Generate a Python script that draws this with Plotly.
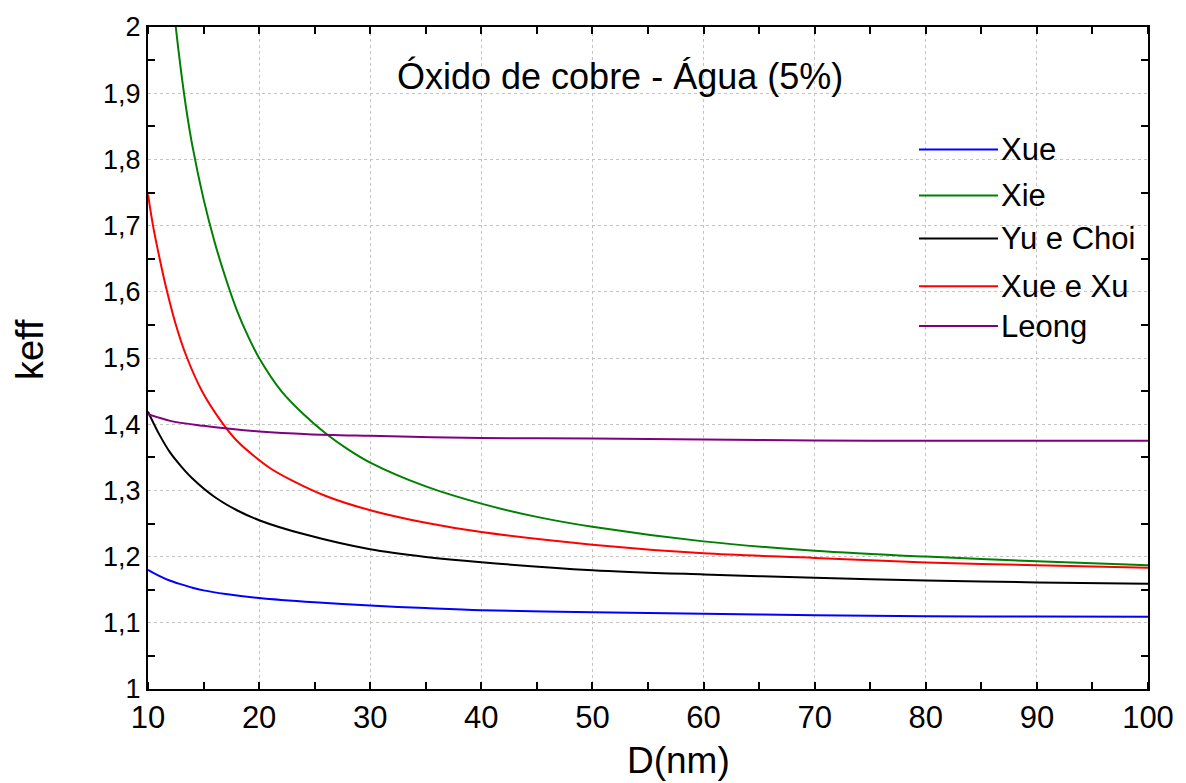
import plotly.graph_objects as go

# Effective thermal conductivity of CuO-water nanofluid (5%) vs particle diameter
d_xue = [10, 11, 12, 13, 14, 15, 17, 20, 25, 30, 35, 40, 50, 60, 70, 80, 90, 100]
k_xue = [1.180, 1.171, 1.1635, 1.158, 1.153, 1.149, 1.1435, 1.1375, 1.131, 1.126, 1.1222, 1.119,
         1.116, 1.1135, 1.1115, 1.110, 1.1095, 1.109]

d_xie = [12, 12.5, 13, 13.5, 14, 15, 16, 17, 18, 19, 20, 22, 24, 26, 28, 30, 35, 40, 45, 50,
         60, 70, 80, 90, 100]
k_xie = [2.08, 2.0, 1.93, 1.87, 1.82, 1.74, 1.675, 1.62, 1.572, 1.533, 1.5, 1.45, 1.415, 1.386,
         1.362, 1.342, 1.306, 1.280, 1.260, 1.245, 1.223, 1.209, 1.200, 1.193, 1.187]

d_yu = [10, 11, 12, 13, 14, 16, 18, 20, 24, 30, 35, 40, 50, 60, 70, 80, 90, 100]
k_yu = [1.419, 1.385, 1.357, 1.336, 1.318, 1.29, 1.27, 1.255, 1.234, 1.211, 1.1995, 1.1915,
        1.1795, 1.173, 1.168, 1.164, 1.161, 1.159]

d_xuexu = [10, 10.45, 11.05, 11.65, 12.46, 13.45, 14.89, 16.6, 18, 19.54, 21, 22.9, 26, 30,
           35, 40, 50, 60, 70, 80, 90, 100]
k_xuexu = [1.747, 1.70, 1.65, 1.605, 1.553, 1.503, 1.449, 1.404, 1.375, 1.352, 1.3335, 1.3155,
           1.2915, 1.270, 1.251, 1.237, 1.218, 1.205, 1.198, 1.191, 1.187, 1.183]

d_leong = [10, 12, 15, 17.35, 20, 24.4, 30, 40, 50, 60, 70, 80, 90, 100]
k_leong = [1.415, 1.405, 1.3975, 1.393, 1.389, 1.385, 1.3825, 1.379, 1.3785, 1.377, 1.3755,
           1.375, 1.375, 1.375]

series_names = ["Xue", "Xie", "Yu e Choi", "Xue e Xu", "Leong"]
series_colors = ["#0000ff", "#008000", "#000000", "#ff0000", "#800080"]
series_x = [d_xue, d_xie, d_yu, d_xuexu, d_leong]
series_y = [k_xue, k_xie, k_yu, k_xuexu, k_leong]

x_ticks = [10, 20, 30, 40, 50, 60, 70, 80, 90, 100]
y_ticks = [1.0, 1.1, 1.2, 1.3, 1.4, 1.5, 1.6, 1.7, 1.8, 1.9, 2.0]
y_ticktext = ["1", "1,1", "1,2", "1,3", "1,4", "1,5", "1,6", "1,7", "1,8", "1,9", "2"]

FONT = "Liberation Sans, Arial, sans-serif"

fig = go.Figure()
for name, color, xs, ys in zip(series_names, series_colors, series_x, series_y):
    fig.add_trace(go.Scatter(
        x=xs, y=ys, mode="lines", name=name,
        line=dict(color=color, width=2, shape="spline", smoothing=0.9),
        showlegend=False,
    ))

# hand-drawn legend block (long key lines)
legend_y = [0.8148, 0.7455, 0.6807, 0.6084, 0.5482]
shapes = []
annotations = []
for name, color, ly in zip(series_names, series_colors, legend_y):
    shapes.append(dict(type="line", xref="paper", yref="paper",
                       x0=0.771, x1=0.850, y0=ly, y1=ly,
                       line=dict(color=color, width=2)))
    annotations.append(dict(xref="paper", yref="paper", x=0.851, y=ly,
                            text=name, showarrow=False, xanchor="left",
                            yanchor="middle",
                            font=dict(family=FONT, size=31, color="black")))

annotations.append(dict(xref="paper", yref="paper", x=0.472, y=0.925,
                        text="Óxido de cobre - Água (5%)", showarrow=False,
                        xanchor="center", yanchor="middle",
                        font=dict(family=FONT, size=36, color="black")))
annotations.append(dict(xref="paper", yref="paper", x=0.53, y=-0.1084,
                        text="D(nm)", showarrow=False,
                        xanchor="center", yanchor="middle",
                        font=dict(family=FONT, size=37, color="black")))
annotations.append(dict(xref="paper", yref="paper", x=-0.118, y=0.512,
                        text="keff", showarrow=False, textangle=-90,
                        xanchor="center", yanchor="middle",
                        font=dict(family=FONT, size=38, color="black")))

fig.update_layout(
    width=1186, height=783,
    margin=dict(l=148, r=38, t=25, b=94),
    paper_bgcolor="white", plot_bgcolor="white",
    font=dict(family=FONT, color="black"),
    shapes=shapes, annotations=annotations,
    showlegend=False,
)

fig.update_xaxes(
    range=[10, 100], tickvals=x_ticks, ticks="",
    tickfont=dict(family=FONT, size=31),
    showline=True, linecolor="black", linewidth=2, mirror="allticks",
    showgrid=True, gridcolor="#c4c4c4", gridwidth=1, griddash="dot",
    zeroline=False,
    minor=dict(dtick=5, tick0=10, ticks="inside", ticklen=7, tickwidth=2,
               tickcolor="black", showgrid=False),
)
fig.update_yaxes(
    range=[1, 2], tickvals=y_ticks, ticktext=y_ticktext, ticks="",
    tickfont=dict(family=FONT, size=27),
    showline=True, linecolor="black", linewidth=2, mirror="allticks",
    showgrid=True, gridcolor="#c4c4c4", gridwidth=1, griddash="dot",
    zeroline=False,
    minor=dict(dtick=0.1, tick0=1.05, ticks="inside", ticklen=7, tickwidth=2,
               tickcolor="black", showgrid=False),
)

fig.write_html("out.html")
